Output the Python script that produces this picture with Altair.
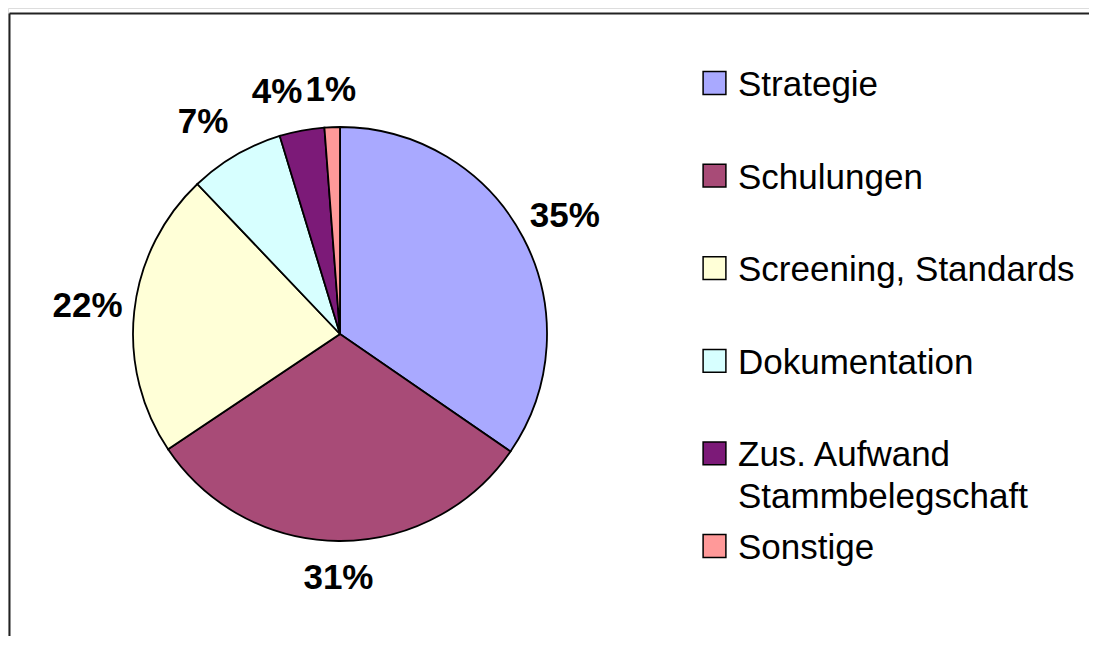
import altair as alt
import pandas as pd

names = ["Strategie", "Schulungen", "Screening, Standards", "Dokumentation",
         "Zus. Aufwand Stammbelegschaft", "Sonstige"]
legend_labels = ["Strategie", "Schulungen", "Screening, Standards", "Dokumentation",
                 "Zus. Aufwand\nStammbelegschaft", "Sonstige"]
values = [34.6, 31.0, 22.3, 7.4, 3.5, 1.2]
colors = ["#A9A9FF", "#A84B77", "#FFFFD7", "#D7FFFF", "#7C1A78", "#FF9999"]

W, H = 1081, 628
CX, CY, R = 332, 326, 207
FONT = "Liberation Sans"

df = pd.DataFrame({
    "name": names,
    "legend": legend_labels,
    "value": values,
    "order": list(range(len(names))),
})
df["label"] = [f"{round(v):.0f}%" for v in values]

color_scale = alt.Scale(domain=names, range=colors)

base = alt.Chart(df)

pie = base.mark_arc(radius=R, stroke="black", strokeWidth=1.8).encode(
    theta=alt.Theta("value:Q", stack=True),
    order=alt.Order("order:Q"),
    color=alt.Color("name:N", scale=color_scale, legend=None),
    x=alt.value(CX), y=alt.value(CY),
)


def pie_label(keep, radius, dx=0, dy=0):
    cond = " || ".join([f"datum.name == '{k}'" for k in keep])
    return base.mark_text(radius=radius, dx=dx, dy=dy, font=FONT, fontSize=35,
                          fontWeight="bold", color="black", align="center",
                          baseline="middle").encode(
        theta=alt.Theta("value:Q", stack=True),
        order=alt.Order("order:Q"),
        text="label:N",
        x=alt.value(CX), y=alt.value(CY),
        opacity=alt.condition(cond, alt.value(1), alt.value(0)),
    )


lab_side = pie_label(["Strategie", "Screening, Standards"], 254)
lab_vert = pie_label(["Schulungen", "Sonstige"], 244)
lab_doku = pie_label(["Dokumentation"], 248, dx=-12, dy=2)
lab_zus = pie_label(["Zus. Aufwand Stammbelegschaft"], 244, dx=-18, dy=-2)

ypos = alt.Y("name:N", sort=names, axis=None,
             scale=alt.Scale(type="point", range=[75, 538], padding=0))

leg_sym = base.mark_square(size=520, stroke="black", strokeWidth=1.5, opacity=1).encode(
    x=alt.value(706.5),
    y=ypos,
    fill=alt.Fill("name:N", scale=color_scale, legend=None),
)

leg_txt = base.mark_text(font=FONT, fontSize=35, color="black", align="left",
                         baseline="top", dy=-15, lineBreak="\n", lineHeight=42).encode(
    x=alt.value(730),
    y=ypos,
    text="legend:N",
)

frame_df = pd.DataFrame({"k": [0]})
frame_top = alt.Chart(frame_df).mark_rule(color="#222", strokeWidth=2).encode(
    x=alt.value(1.5), x2=alt.value(W + 20), y=alt.value(5.5))
frame_left = alt.Chart(frame_df).mark_rule(color="#222", strokeWidth=2).encode(
    x=alt.value(1.5), y=alt.value(5.5), y2=alt.value(H + 20))

chart = alt.layer(frame_top, frame_left, pie, lab_side, lab_vert, lab_doku, lab_zus,
                  leg_sym, leg_txt).properties(
    width=W, height=H, padding=0,
    autosize=alt.AutoSizeParams(type="none"),
).configure_view(stroke=None).configure(background="white")

chart.save("out.html", embed_options={"renderer": "svg", "actions": False})
